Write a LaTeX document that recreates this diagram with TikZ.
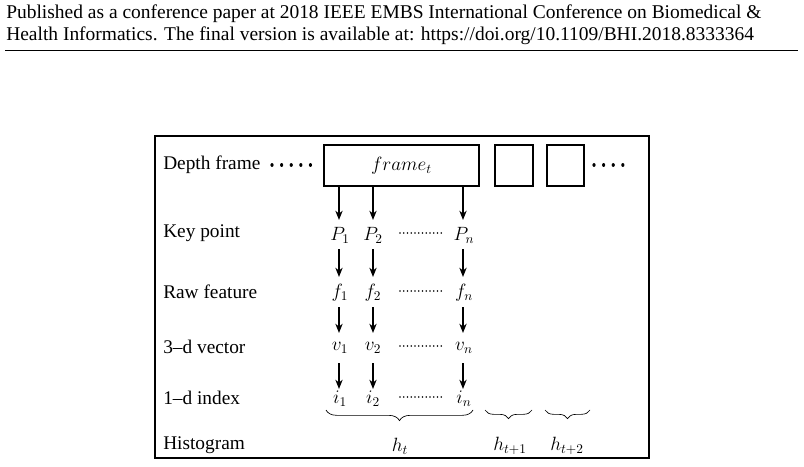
\documentclass[tikz,border=0pt]{standalone}
\usepackage{fontspec}
\setmainfont{Liberation Serif}
\usetikzlibrary{arrows.meta,decorations.pathreplacing}
\begin{document}
\begin{tikzpicture}[x=0.75pt,y=-0.75pt,
  lbl/.style={anchor=west,inner sep=0pt,font=\fontsize{14.5}{17}\selectfont},
  m/.style={inner sep=0pt,font=\fontsize{14.5}{17}\selectfont},
  arr/.style={-{Stealth[length=7pt,width=5.5pt]},line width=1pt},
  dots/.style={line width=1.2pt,dash pattern=on 0.01pt off 2.8pt,line cap=round},
  ddots/.style={line width=2.4pt,dash pattern=on 0.01pt off 7.2pt,line cap=round},
  br/.style={decorate,decoration={brace,mirror,amplitude=8pt},line width=0.5pt}]
\useasboundingbox (0,0) rectangle (804,467);
\node[anchor=west,inner sep=0pt,font=\fontsize{14.6}{17}\selectfont] (h1) at (6,14) {Published as a conference paper at 2018 IEEE EMBS International Conference on Biomedical \&};
\node[anchor=west,inner sep=0pt,font=\fontsize{14.6}{17}\selectfont] (h2) at (6,36) {Health Informatics. The final version is available at: https://doi.org/10.1109/BHI.2018.8333364};
\draw[line width=0.6pt] (5,50) -- (798,50);
\draw[line width=0.9pt] (155,136) rectangle (649,458);
\node[draw,line width=1pt,minimum width=155*0.75pt,minimum height=41*0.75pt,inner sep=0pt,font=\fontsize{14.5}{17}\selectfont] (F) at (401.5,165.5) {$frame_t$};
\node[draw,line width=1pt,minimum width=38*0.75pt,minimum height=41*0.75pt] (F2) at (514,165.5) {};
\node[draw,line width=1pt,minimum width=37*0.75pt,minimum height=41*0.75pt] (F3) at (565.5,165.5) {};
\coordinate (dl1) at (272,165); \coordinate (dl2) at (315,165);
\coordinate (dr1) at (594,165); \coordinate (dr2) at (632,165);
\draw[ddots] (dl1) -- (dl2);
\draw[ddots] (dr1) -- (dr2);
\node[lbl] (L1) at (163,165) {Depth frame};
\node[lbl] (L2) at (163,233) {Key point};
\node[lbl] (L3) at (163,292) {Raw feature};
\node[lbl] (L4) at (163,347) {3–d vector};
\node[lbl] (L5) at (163,398) {1–d index};
\node[lbl] (L6) at (163,445) {Histogram};
\foreach \n/\a/\b/\c/\y in {P/P_1/P_2/P_n/235, f/f_1/f_2/f_n/293, v/v_1/v_2/v_n/348, i/i_1/i_2/i_n/399}{
  \node[m] (\n1) at (340,\y) {$\a$};
  \node[m] (\n2) at (373,\y) {$\b$};
  \node[m] (\n3) at (464,\y) {$\c$};
  \coordinate (\n d1) at (400,\y-2);
  \coordinate (\n d2) at (442,\y-2);
  \draw[dots] (\n d1) -- (\n d2);
}
\foreach \y/\z in {186/220,249/277,307/333,363/389}{
  \foreach \x in {339,373,463}{
    \coordinate (a\x) at (\x,\y);
    \coordinate (b\x) at (\x,\z);
    \draw[arr] (a\x) -- (b\x);
  }
}
\coordinate (B1a) at (326,410); \coordinate (B1b) at (473,410);
\coordinate (B2a) at (485,410); \coordinate (B2b) at (532,410);
\coordinate (B3a) at (545,410); \coordinate (B3b) at (590,410);
\draw[br] (B1a) -- (B1b);
\draw[br,decoration={amplitude=6.5pt}] (B2a) -- (B2b);
\draw[br,decoration={amplitude=6.5pt}] (B3a) -- (B3b);
\node[m] (H1) at (400,446) {$h_t$};
\node[m] (H2) at (510,446) {$h_{t+1}$};
\node[m] (H3) at (567,446) {$h_{t+2}$};
\end{tikzpicture}
\end{document}
